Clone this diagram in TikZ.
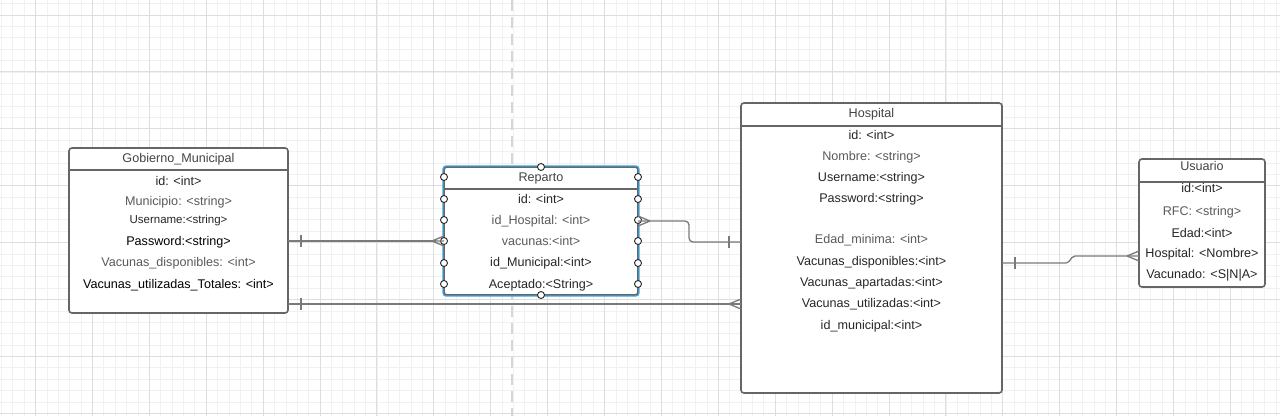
\documentclass[tikz,border=0pt]{standalone}
\usepackage{fontspec}
\setmainfont{Liberation Sans}
\usetikzlibrary{calc}
\definecolor{gridminor}{HTML}{F1F1F1}
\definecolor{gridmajor}{HTML}{DEDEDE}
\definecolor{boxline}{HTML}{666666}
\definecolor{txtdark}{HTML}{262626}
\definecolor{txtgray}{HTML}{5A5A5A}
\definecolor{txttitle}{HTML}{444444}
\definecolor{conline}{HTML}{7A7A7A}
\definecolor{selblue}{HTML}{3BA3DB}
\definecolor{dashgray}{HTML}{D6D6D6}
\begin{document}
\begin{tikzpicture}[x=1pt,y=-1pt,
  entity/.style={draw=boxline, line width=1.6pt, rounded corners=3pt, inner sep=0pt, outer sep=0pt, fill=white},
  hline/.style={draw=boxline, line width=1.6pt},
  attr/.style={inner sep=0pt, yshift=-1.5pt, text height=9pt, text depth=2.6pt, font=\fontsize{12.6}{15}\selectfont, text=txtdark},
  attrg/.style={attr, text=txtgray},
  attrt/.style={attr, text=txttitle},
  conn/.style={draw=conline, line width=1.3pt},
  port/.style={circle, draw=txtdark, fill=white, line width=0.9pt, minimum size=7pt, inner sep=0pt},
]
\useasboundingbox (0,0) rectangle (1280,416);
\clip (0,0) rectangle (1280,416);
\fill[white] (0,0) rectangle (1280,416);
% grid
\foreach \i in {0,...,112} \draw[gridminor, line width=0.7pt] ({1.36+\i*11.38},0) -- ++(0,416);
\foreach \i in {0,...,36} \draw[gridminor, line width=0.7pt] (0,{3.62+\i*11.38}) -- ++(1280,0);
\foreach \i in {0,...,22} \draw[gridmajor, line width=0.9pt] ({35.5+\i*56.9},0) -- ++(0,416);
\foreach \i in {0,...,7} \draw[gridmajor, line width=0.9pt] (0,{15+\i*56.9}) -- ++(1280,0);
% dashed separator
\draw[dashgray, line width=2.5pt, dash pattern=on 11pt off 6pt] (512,0) -- (512,416);

% ---------- Gobierno_Municipal
\node[entity, minimum width=219pt, minimum height=165pt] (gm) at (178.5,230.5) {};
\draw[hline] (gm.west |- 0,170) -- (gm.east |- 0,170);
\node[attrt] (gm-t) at (178.5,158) {Gobierno\_Municipal};
\node[attr] (gm-id) at (178.5,181) {id: <int>};
\node[attrg] (gm-mun) at (178.5,201) {Municipio: <string>};
\node[attr, font=\fontsize{11.5}{14}\selectfont] (gm-us) at (178.5,219) {Username:<string>};
\node[attr, text=black] (gm-pw) at (178.5,241) {Password:<string>};
\node[attrg] (gm-vd) at (178.5,262) {Vacunas\_disponibles: <int>};
\node[attr, text=black] (gm-vut) at (178.5,284) {Vacunas\_utilizadas\_Totales: <int>};

% ---------- Reparto
\node[entity, minimum width=194pt, minimum height=128pt] (rep) at (541,231) {};
\draw[hline] (rep.west |- 0,189) -- (rep.east |- 0,189);
\draw[selblue, line width=1.2pt, rounded corners=3pt] ($(rep.south west)+(-1,1)$) rectangle ($(rep.north east)+(1,-1)$);
\node[attrt] (rep-t) at (541,177) {Reparto};
\node[attr] (rep-id) at (541,199) {id: <int>};
\node[attrg] (rep-idh) at (541,220) {id\_Hospital: <int>};
\node[attrg] (rep-vac) at (541,241) {vacunas:<int>};
\node[attr] (rep-idm) at (541,262) {id\_Municipal:<int>};
\node[attr] (rep-ac) at (541,284) {Aceptado:<String>};
\foreach \yy in {177,199,220,241,263,284} {
  \node[port] at (rep.west |- 0,\yy) {};
  \node[port] at (rep.east |- 0,\yy) {};
}
\node[port] at (rep.north) {};
\node[port] at (rep.south) {};

% ---------- Hospital
\node[entity, minimum width=261pt, minimum height=290pt] (hos) at (871.5,248) {};
\draw[hline] (hos.west |- 0,126) -- (hos.east |- 0,126);
\node[attrt] (hos-t) at (871.5,113) {Hospital};
\node[attr] (hos-id) at (871.5,135) {id: <int>};
\node[attrg] (hos-nom) at (871.5,156) {Nombre: <string>};
\node[attr] (hos-us) at (871.5,177) {Username:<string>};
\node[attr] (hos-pw) at (871.5,198) {Password:<string>};
\node[attrg] (hos-ed) at (871.5,239) {Edad\_minima: <int>};
\node[attr] (hos-vd) at (871.5,261) {Vacunas\_disponibles:<int>};
\node[attr] (hos-va) at (871.5,282) {Vacunas\_apartadas:<int>};
\node[attr] (hos-vu) at (871.5,303) {Vacunas\_utilizadas:<int>};
\node[attr] (hos-idm) at (871.5,325) {id\_municipal:<int>};

% ---------- Usuario
\node[entity, minimum width=126pt, minimum height=128pt] (usu) at (1202,223) {};
\draw[hline] (usu.west |- 0,182) -- (usu.east |- 0,182);
\node[attrt] (usu-t) at (1202,166) {Usuario};
\node[attr] (usu-id) at (1202,188) {id:<int>};
\node[attrg] (usu-rfc) at (1202,211) {RFC: <string>};
\node[attr] (usu-ed) at (1202,233) {Edad:<int>};
\node[attr] (usu-hos) at (1202,253) {Hospital: <Nombre>};
\node[attr] (usu-vac) at (1202,274) {Vacunado: <S|N|A>};

% ---------- connectors
% Gobierno -> Reparto
\coordinate (a1) at (gm.east |- 0,241);
\coordinate (b1) at (rep.west |- 0,241);
\draw[conn] (a1) -- ($(b1)+(-12,0)$);
\draw[conn] ($(a1)+(13,-6)$) -- ($(a1)+(13,6)$);
\draw[conn] ($(b1)+(-12,0)$) -- ($(b1)+(0,-5)$) ($(b1)+(-12,0)$) -- ($(b1)+(0,5)$) ($(b1)+(-12,0)$) -- (b1);

% Gobierno -> Hospital
\coordinate (a2) at ($(gm.east)+(0,73.5)$);
\coordinate (b2) at (a2 -| hos.west);
\draw[conn] (a2) -- (b2);
\draw[conn] ($(a2)+(13,-6)$) -- ($(a2)+(13,6)$);
\draw[conn] ($(b2)+(-12,0)$) -- ($(b2)+(0,-5)$) ($(b2)+(-12,0)$) -- ($(b2)+(0,5)$);

% Reparto -> Hospital
\coordinate (a3) at (rep.east |- 0,221);
\coordinate (b3) at (hos.west |- 0,242);
\draw[conn, rounded corners=4pt] (a3) -- (a3 -| 689,0) -- (b3 -| 689,0) -- (b3);
\draw[conn] ($(a3)+(12,0)$) -- ($(a3)+(0,-5)$) ($(a3)+(12,0)$) -- ($(a3)+(0,5)$);
\draw[conn] ($(b3)+(-12,-6)$) -- ($(b3)+(-12,6)$);

% Hospital -> Usuario
\coordinate (a4) at ($(hos.east)+(0,15)$);
\coordinate (b4) at ($(usu.west)+(0,33)$);
\draw[conn, rounded corners=2pt] (a4) -- ($(a4)+(66,0)$) -- ($(b4)+(-66,0)$) -- (b4);
\draw[conn] ($(a4)+(13,-6)$) -- ($(a4)+(13,6)$);
\draw[conn] ($(b4)+(-12,0)$) -- ($(b4)+(0,-5)$) ($(b4)+(-12,0)$) -- ($(b4)+(0,5)$);
\end{tikzpicture}
\end{document}
